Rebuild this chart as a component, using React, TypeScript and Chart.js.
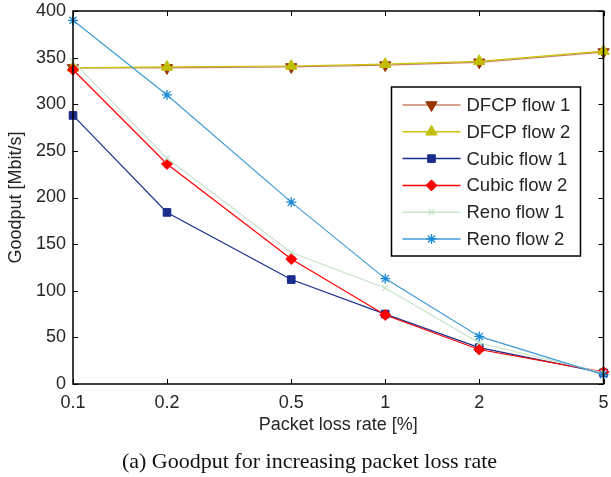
import React, { useEffect, useRef } from "react";
import { Chart, registerables } from "chart.js";
import { drawPoint } from "chart.js/helpers";

Chart.register(...registerables);

// Packet loss rate [%] on a log axis
const lossRates = [0.1, 0.2, 0.5, 1, 2, 5];
const xTickValues = [0.1, 0.2, 0.5, 1, 2, 5];
const yTickValues = [0, 50, 100, 150, 200, 250, 300, 350, 400];

// Goodput [Mbit/s] per flow
const dfcpFlow1 = [339, 339, 340, 342, 345, 356];
const dfcpFlow2 = [339, 340, 341, 343, 346, 357];
const cubicFlow1 = [288, 184, 112, 75, 39, 12];
const cubicFlow2 = [337, 236, 134, 74, 37, 13];
const renoFlow1 = [346, 242, 141, 103, 44, 12];
const renoFlow2 = [390, 310, 195, 113, 51, 10];

const seriesLabels = [
  "DFCP flow 1",
  "DFCP flow 2",
  "Cubic flow 1",
  "Cubic flow 2",
  "Reno flow 1",
  "Reno flow 2",
];

const FONT = "'Liberation Sans', Arial, Helvetica, sans-serif";
const TEXT = "#262626";

type Style = {
  line: string;
  marker: string;
  pointStyle: string;
  radius: number;
  rotation?: number;
  markerBorder?: number;
};

const styles: Style[] = [
  { line: "#c8826a", marker: "#993300", pointStyle: "triangle", radius: 6.5, rotation: 180 },
  { line: "#c8c400", marker: "#c2bf00", pointStyle: "triangle", radius: 6.5 },
  { line: "#1a2f8f", marker: "#1a2c8c", pointStyle: "rect", radius: 5.4 },
  { line: "#ff0000", marker: "#ff0000", pointStyle: "rectRot", radius: 5.5 },
  { line: "#c6e4c8", marker: "#c6e4c8", pointStyle: "crossRot", radius: 4, markerBorder: 1.2 },
  { line: "#3f9bd6", marker: "#1a88d6", pointStyle: "star", radius: 5, markerBorder: 1.3 },
];

const seriesValues = [dfcpFlow1, dfcpFlow2, cubicFlow1, cubicFlow2, renoFlow1, renoFlow2];

// Box around the axes with inward ticks on all four sides
const framePlugin = {
  id: "frame",
  afterDatasetsDraw(chart: any) {
    const { ctx, chartArea, scales } = chart;
    const { left, right, top, bottom } = chartArea;
    const tl = 5;
    ctx.save();
    ctx.strokeStyle = "#000";
    ctx.lineWidth = 1.5;
    ctx.strokeRect(left, top, right - left, bottom - top);
    ctx.lineWidth = 1;
    ctx.beginPath();
    xTickValues.forEach((v) => {
      const px = Math.round(scales.x.getPixelForValue(v)) + 0.5;
      ctx.moveTo(px, bottom);
      ctx.lineTo(px, bottom - tl);
      ctx.moveTo(px, top);
      ctx.lineTo(px, top + tl);
    });
    yTickValues.forEach((v) => {
      const py = Math.round(scales.y.getPixelForValue(v)) + 0.5;
      ctx.moveTo(left, py);
      ctx.lineTo(left + tl, py);
      ctx.moveTo(right, py);
      ctx.lineTo(right - tl, py);
    });
    ctx.stroke();
    ctx.restore();
  },
};

// Legend box in the upper right of the plot, line sample with marker in the middle
const legendPlugin = {
  id: "boxLegend",
  afterDraw(chart: any) {
    const { ctx, chartArea } = chart;
    const boxRight = chartArea.right - 23;
    const boxLeft = boxRight - 189;
    const boxTop = chartArea.top + 76;
    const rowH = 26.8;
    const boxH = 169;
    ctx.save();
    ctx.fillStyle = "#fff";
    ctx.fillRect(boxLeft, boxTop, boxRight - boxLeft, boxH);
    ctx.strokeStyle = "#000";
    ctx.lineWidth = 1.5;
    ctx.strokeRect(boxLeft, boxTop, boxRight - boxLeft, boxH);
    ctx.font = `18.5px ${FONT}`;
    ctx.textBaseline = "middle";
    ctx.textAlign = "left";
    seriesLabels.forEach((label, i) => {
      const s = styles[i];
      const cy = boxTop + 18 + i * rowH;
      const x0 = boxLeft + 11;
      const x1 = boxLeft + 69;
      ctx.strokeStyle = s.line;
      ctx.lineWidth = 1.5;
      ctx.beginPath();
      ctx.moveTo(x0, cy);
      ctx.lineTo(x1, cy);
      ctx.stroke();
      ctx.fillStyle = s.marker;
      ctx.strokeStyle = s.marker;
      ctx.lineWidth = s.markerBorder ?? 1;
      drawPoint(
        ctx,
        { pointStyle: s.pointStyle as any, rotation: s.rotation ?? 0, radius: s.radius, borderWidth: s.markerBorder ?? 1 },
        (x0 + x1) / 2,
        cy
      );
      ctx.fillStyle = TEXT;
      ctx.fillText(label, boxLeft + 75, cy + 1);
    });
    ctx.restore();
  },
};

// Figure caption under the axes
const captionPlugin = {
  id: "caption",
  afterDraw(chart: any) {
    const { ctx } = chart;
    ctx.save();
    ctx.font = "22px 'Liberation Serif', 'Times New Roman', serif";
    ctx.fillStyle = "#111";
    ctx.textAlign = "center";
    ctx.textBaseline = "alphabetic";
    ctx.fillText("(a) Goodput for increasing packet loss rate", 309.5, 468);
    ctx.restore();
  },
};

export default function App() {
  const canvasRef = useRef<HTMLCanvasElement | null>(null);

  useEffect(() => {
    if (!canvasRef.current) return;
    const datasets = seriesLabels.map((label, i) => {
      const s = styles[i];
      return {
        label,
        data: lossRates.map((x, j) => ({ x, y: seriesValues[i][j] })),
        borderColor: s.line,
        backgroundColor: s.marker,
        pointBackgroundColor: s.marker,
        pointBorderColor: s.marker,
        pointBorderWidth: s.markerBorder ?? 1,
        pointStyle: s.pointStyle,
        pointRotation: s.rotation ?? 0,
        pointRadius: s.radius,
        borderWidth: 1.2,
        tension: 0,
        fill: false,
        clip: false,
        order: seriesLabels.length - i,
      };
    });

    const chart = new Chart(canvasRef.current, {
      type: "line",
      data: { datasets: datasets as any },
      options: {
        animation: false,
        responsive: false,
        maintainAspectRatio: false,
        layout: { padding: { top: 11, right: 6, left: 0, bottom: 41 } },
        plugins: {
          legend: { display: false },
          tooltip: { enabled: false },
          title: { display: false },
        },
        scales: {
          x: {
            type: "logarithmic",
            min: 0.1,
            max: 5,
            afterBuildTicks: (scale: any) => {
              scale.ticks = xTickValues.map((v) => ({ value: v }));
            },
            afterFit: (scale: any) => {
              scale.height = 52;
              scale.paddingLeft = 0;
              scale.paddingRight = 0;
            },
            grid: { display: false, drawTicks: false },
            border: { display: false },
            ticks: {
              autoSkip: false,
              maxRotation: 0,
              padding: 8,
              color: TEXT,
              font: { family: FONT, size: 18 },
              callback: (v: any) => String(Number(v)),
            },
            title: {
              display: true,
              text: "Packet loss rate [%]",
              color: TEXT,
              font: { family: FONT, size: 18 },
              padding: { top: 0, bottom: 0 },
            },
          },
          y: {
            type: "linear",
            min: 0,
            max: 400,
            afterBuildTicks: (scale: any) => {
              scale.ticks = yTickValues.map((v) => ({ value: v }));
            },
            afterFit: (scale: any) => {
              scale.width = 73;
              scale.paddingTop = 0;
              scale.paddingBottom = 0;
            },
            grid: { display: false, drawTicks: false },
            border: { display: false },
            ticks: {
              padding: 7,
              color: TEXT,
              font: { family: FONT, size: 18 },
            },
            title: {
              display: true,
              text: "Goodput [Mbit/s]",
              color: TEXT,
              font: { family: FONT, size: 18 },
              padding: { top: 5, bottom: 0 },
            },
          },
        },
      },
      plugins: [framePlugin, legendPlugin, captionPlugin],
    });
    return () => chart.destroy();
  }, []);

  return (
    <div style={{ position: "fixed", left: 0, top: 0, width: 611, height: 477, background: "#fff" }}>
      <canvas ref={canvasRef} width={611} height={477} style={{ width: 611, height: 477 }} />
    </div>
  );
}
